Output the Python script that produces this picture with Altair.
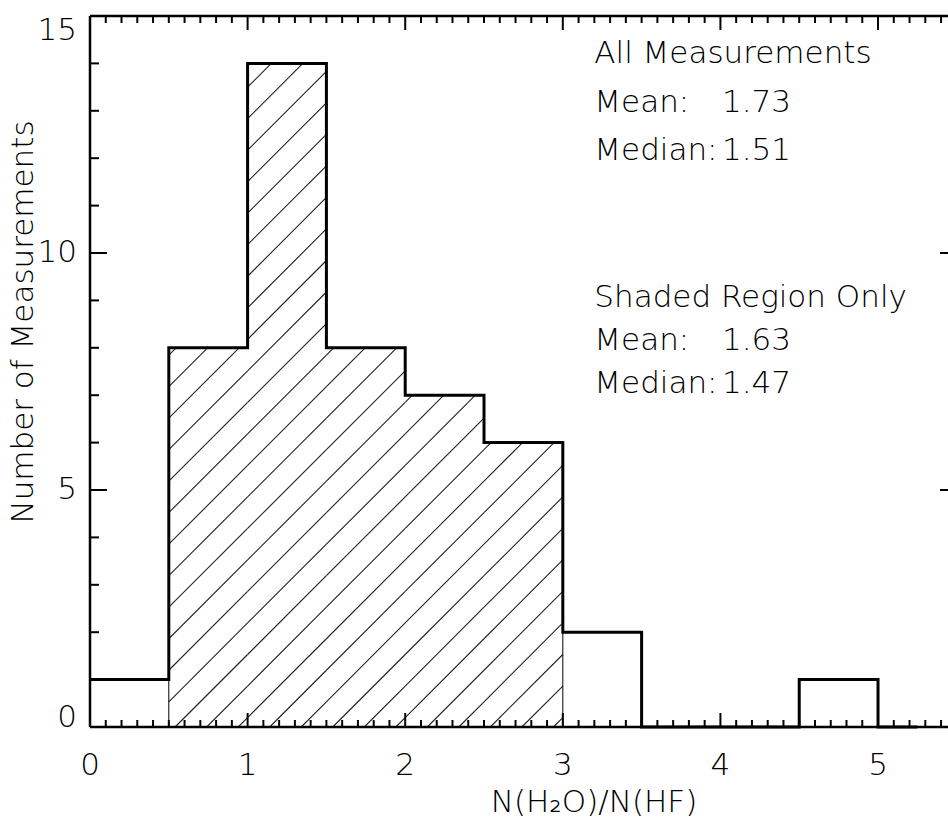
import altair as alt
import numpy as np
import pandas as pd

# ---------------- data ----------------
bin_left = [0.0, 0.5, 1.0, 1.5, 2.0, 2.5, 3.0, 3.5, 4.0, 4.5, 5.0]
bin_right = [0.5, 1.0, 1.5, 2.0, 2.5, 3.0, 3.5, 4.0, 4.5, 5.0, 5.25]
counts = [1, 8, 14, 8, 7, 6, 2, 0, 0, 1, 0]
shaded_range = [0.5, 3.0]

x_major = [0, 1, 2, 3, 4, 5]
x_labels = ["0", "1", "2", "3", "4", "5"]
y_major = [0, 5, 10, 15]
y_labels = ["0", "5", "10", "15"]

group_titles = ["All Measurements", "Shaded Region Only"]
group_means = ["1.73", "1.63"]
group_medians = ["1.51", "1.47"]

x_title = "N(H\u2082O)/N(HF)"
y_title = "Number of Measurements"

# ---------------- layout / style ----------------
W, H = 858, 711
X_MAX, Y_MAX = 5.444, 15
FONT = "DejaVu Sans"
FS = 31
FW = 200
xs = alt.Scale(domain=[0, X_MAX], nice=False, zero=False)
ys = alt.Scale(domain=[0, Y_MAX], nice=False, zero=False)

# step outline of the full histogram
step_rows = []
for i, (l, r, c) in enumerate(zip(bin_left, bin_right, counts)):
    step_rows.append({"x": l, "y": c, "o": 2 * i})
    step_rows.append({"x": r, "y": c, "o": 2 * i + 1})
step_df = pd.DataFrame(step_rows)

# outline of the shaded region
sh_bins = [(l, r, c) for l, r, c in zip(bin_left, bin_right, counts)
           if l >= shaded_range[0] and r <= shaded_range[1]]
sh_rows = [{"x": shaded_range[0], "y": 0, "o": 0}]
for i, (l, r, c) in enumerate(sh_bins):
    sh_rows.append({"x": l, "y": c, "o": 2 * i + 1})
    sh_rows.append({"x": r, "y": c, "o": 2 * i + 2})
sh_rows.append({"x": shaded_range[1], "y": 0, "o": 999})
sh_df = pd.DataFrame(sh_rows)

# 45-degree hatching clipped to the shaded bins
m = (W / X_MAX) / (H / Y_MAX)
hatch = []
for k in range(-30, 20):
    a = 0.54 + 0.2 * k
    for (l, r, c) in sh_bins:
        x0 = max(l, a)
        x1 = min(r, a + c / m)
        if x1 > x0 + 1e-9:
            hatch.append({"x": x0, "y": m * (x0 - a), "x2": x1, "y2": m * (x1 - a)})
hatch_df = pd.DataFrame(hatch)

# ticks
x_minor = [round(v, 1) for v in np.arange(0, X_MAX, 0.1) if abs(v - round(v)) > 1e-6]
y_minor = [v for v in range(0, Y_MAX + 1) if v % 5 != 0]
xmaj_df = pd.DataFrame({"v": x_major, "t": x_labels})
xmin_df = pd.DataFrame({"v": x_minor})
ymaj_df = pd.DataFrame({"v": y_major, "t": y_labels})
ymin_df = pd.DataFrame({"v": y_minor})

# annotations
ann_rows = []
for g, (ttl, mean, med) in enumerate(zip(group_titles, group_means, group_medians)):
    y0 = [14.0, 8.87][g]
    dy = [1.02, 0.91][g]
    ann_rows += [
        {"x": 3.2, "y": y0, "t": ttl},
        {"x": 3.2, "y": y0 - dy, "t": "Mean:"},
        {"x": 4.01, "y": y0 - dy, "t": mean},
        {"x": 3.2, "y": y0 - 2 * dy, "t": "Median:"},
        {"x": 4.01, "y": y0 - 2 * dy, "t": med},
    ]
ann_df = pd.DataFrame(ann_rows)

txt = dict(font=FONT, fontSize=FS, fontWeight=FW, color="black")

# ---------------- layers ----------------
hatch_layer = alt.Chart(hatch_df).mark_rule(color="#222222", strokeWidth=1.1).encode(
    x=alt.X("x:Q", scale=xs, axis=None), y=alt.Y("y:Q", scale=ys, axis=None),
    x2="x2:Q", y2="y2:Q")

shade_outline = alt.Chart(sh_df).mark_line(color="black", strokeWidth=1, interpolate="linear").encode(
    x=alt.X("x:Q", scale=xs, axis=None), y=alt.Y("y:Q", scale=ys, axis=None),
    order="o:Q")

step_layer = alt.Chart(step_df).mark_line(color="black", strokeWidth=3, strokeJoin="miter").encode(
    x=alt.X("x:Q", scale=xs, axis=None), y=alt.Y("y:Q", scale=ys, axis=None),
    order="o:Q")

# frame (left, bottom, top)
frame_b = alt.Chart(pd.DataFrame({"v": [0, Y_MAX]})).mark_rule(color="black", strokeWidth=2.5).encode(
    y=alt.Y("v:Q", scale=ys, axis=None))
frame_l = alt.Chart(pd.DataFrame({"v": [0]})).mark_rule(color="black", strokeWidth=2.5).encode(
    x=alt.X("v:Q", scale=xs, axis=None))

TW = 2
xt_b_maj = alt.Chart(xmaj_df).mark_rule(color="black", strokeWidth=TW).encode(
    x=alt.X("v:Q", scale=xs, axis=None), y=alt.value(H), y2=alt.value(H - 14))
xt_b_min = alt.Chart(xmin_df).mark_rule(color="black", strokeWidth=TW).encode(
    x=alt.X("v:Q", scale=xs, axis=None), y=alt.value(H), y2=alt.value(H - 7))
xt_t_maj = alt.Chart(xmaj_df).mark_rule(color="black", strokeWidth=TW).encode(
    x=alt.X("v:Q", scale=xs, axis=None), y=alt.value(0), y2=alt.value(14))
xt_t_min = alt.Chart(xmin_df).mark_rule(color="black", strokeWidth=TW).encode(
    x=alt.X("v:Q", scale=xs, axis=None), y=alt.value(0), y2=alt.value(7))
yt_l_maj = alt.Chart(ymaj_df).mark_rule(color="black", strokeWidth=TW).encode(
    y=alt.Y("v:Q", scale=ys, axis=None), x=alt.value(0), x2=alt.value(17))
yt_l_min = alt.Chart(ymin_df).mark_rule(color="black", strokeWidth=TW).encode(
    y=alt.Y("v:Q", scale=ys, axis=None), x=alt.value(0), x2=alt.value(9))
yt_r_maj = alt.Chart(ymaj_df).mark_rule(color="black", strokeWidth=TW).encode(
    y=alt.Y("v:Q", scale=ys, axis=None), x=alt.value(W - 8), x2=alt.value(W))

def ylab(filter_expr, baseline):
    return alt.Chart(ymaj_df).transform_filter(filter_expr).mark_text(
        align="right", baseline=baseline, **txt).encode(
        y=alt.Y("v:Q", scale=ys, axis=None), x=alt.value(-13), text="t:N")

ylab0 = ylab("datum.v == 0", "alphabetic")
ylabm = ylab("datum.v > 0 && datum.v < 15", "middle")
ylab15 = ylab("datum.v == 15", "top")

xlab = alt.Chart(xmaj_df).mark_text(align="center", baseline="alphabetic", **txt).encode(
    x=alt.X("v:Q", scale=xs, axis=None), y=alt.value(H + 48), text="t:N")

xtitle = alt.Chart(pd.DataFrame({"t": [x_title]})).mark_text(
    align="center", baseline="alphabetic", **txt).encode(
    x=alt.value(504), y=alt.value(H + 85), text="t:N")

ytitle = alt.Chart(pd.DataFrame({"t": [y_title]})).mark_text(
    align="center", baseline="alphabetic", angle=270, **txt).encode(
    x=alt.value(-57), y=alt.value(306), text="t:N")

ann_layer = alt.Chart(ann_df).mark_text(align="left", baseline="alphabetic", **txt).encode(
    x=alt.X("x:Q", scale=xs, axis=None), y=alt.Y("y:Q", scale=ys, axis=None), text="t:N")

chart = alt.layer(
    hatch_layer, shade_outline, frame_b, frame_l,
    xt_b_maj, xt_b_min, xt_t_maj, xt_t_min, yt_l_maj, yt_l_min, yt_r_maj,
    step_layer, ylab0, ylabm, ylab15, xlab, xtitle, ytitle, ann_layer,
).properties(
    width=W, height=H,
    autosize=alt.AutoSizeParams(type="none"),
    padding={"left": 90, "top": 16, "right": 0, "bottom": 94},
    background="white",
).configure_view(strokeOpacity=0)

chart.save("out.html", embed_options={"renderer": "svg", "actions": False})
